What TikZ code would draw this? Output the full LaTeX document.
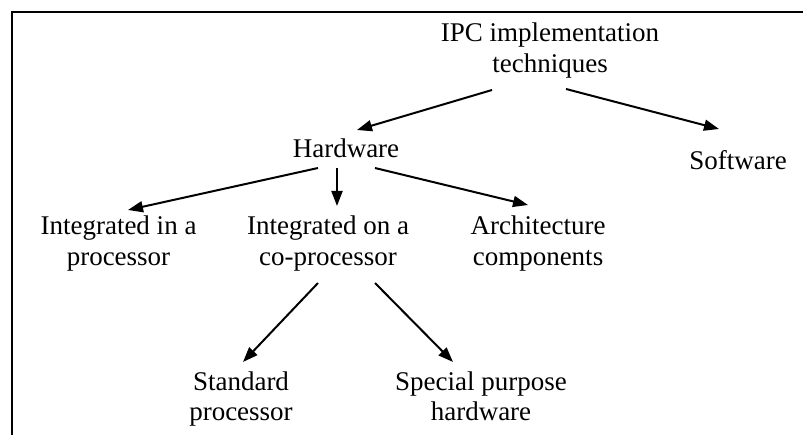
\documentclass[tikz,border=0pt]{standalone}
\usepackage{fontspec}
\setmainfont{Liberation Serif}
\usetikzlibrary{arrows.meta,calc}
% two centred lines whose baseline is the first line's baseline
\newcommand\twolines[2]{\begin{tabular}[t]{@{}c@{}}#1\\#2\end{tabular}}
\begin{document}
\begin{tikzpicture}[x=1pt,y=-1pt,
  label/.style={anchor=base,inner sep=0pt,font=\fontsize{27}{31}\selectfont},
  link/.style={line width=2pt,-{Triangle[length=15pt,width=11pt]}},
  frame/.style={line width=2.6pt}]
  \useasboundingbox (0,0) rectangle (803,435);
  % open frame: left and top edges
  \draw[frame] (12,435) -- (12,12) -- (803,12);

  \node[label] (ipc)   at (550,42)  {\twolines{IPC implementation}{techniques}};
  \node[label] (hw)    at (346,158) {Hardware};
  \node[label] (sw)    at (738,170) {Software};
  \node[label] (intin) at (118.5,235) {\twolines{Integrated in a}{processor}};
  \node[label] (inton) at (328,235) {\twolines{Integrated on a}{co-processor}};
  \node[label] (arch)  at (538,235) {\twolines{Architecture}{components}};
  \node[label] (std)   at (241,390) {\twolines{Standard}{processor}};
  \node[label] (spec)  at (481,390) {\twolines{Special purpose}{hardware}};

  \draw[link] ($(ipc.base)+(-58,48)$) -- ($(hw.base)+(11,-28)$);
  \draw[link] ($(ipc.base)+(16,47)$)  -- ($(sw.base)+(-19,-41)$);
  \draw[link] ($(hw.base)+(-28,10)$)  -- ($(intin.base)+(9.5,-25)$);
  \draw[link] ($(hw.base)+(-9,10)$)   -- ($(inton.base)+(9,-29)$);
  \draw[link] ($(hw.base)+(29,10)$)   -- ($(arch.base)+(-10,-30)$);
  \draw[link] ($(inton.base)+(-10,48)$) -- ($(std.base)+(2,-28)$);
  \draw[link] ($(inton.base)+(47,48)$)  -- ($(spec.base)+(-28,-28)$);
\end{tikzpicture}
\end{document}
